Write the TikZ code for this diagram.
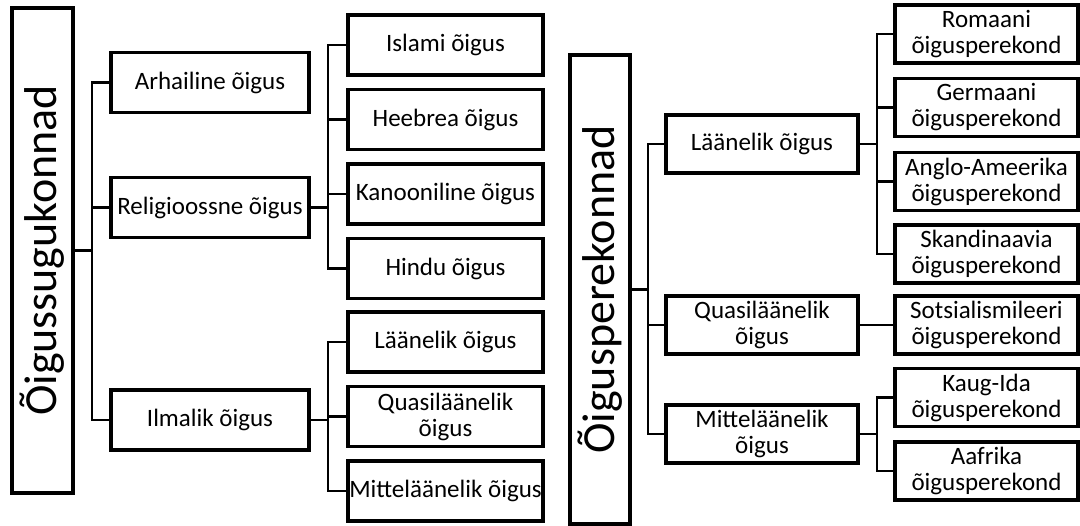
\documentclass[tikz,border=0pt]{standalone}
\usepackage{fontspec}
\setmainfont{Carlito}
\usetikzlibrary{shadows}
\begin{document}
\begin{tikzpicture}[x=1pt,y=-1pt,
  obox/.style={draw, line width=3.5pt, fill=white, inner sep=0pt, align=center,
    font=\fontsize{25}{26}\selectfont,
    drop shadow={opacity=0.25, shadow xshift=1.5pt, shadow yshift=-1.5pt}},
  lbox/.style={obox, minimum width=198pt, minimum height=60pt},
  mbox/.style={obox, minimum width=195pt, minimum height=60pt},
  rmbox/.style={obox, minimum width=192pt, minimum height=58pt},
  rrbox/.style={obox, minimum width=183pt, minimum height=58pt},
  bigtext/.style={font=\fontsize{46}{48}\selectfont, inner sep=0pt},
  conn/.style={line width=2.5pt}]
\useasboundingbox (0,0) rectangle (1080,526);

% ---------- left tree ----------
\node[obox, minimum width=61pt, minimum height=485pt] (L0) at (42.5,250.5) {};
\node[bigtext, rotate=90] (L0t) at (L0.center) {Õigussugukonnad};

\node[lbox] (A1) at (210,82.5) {Arhailine õigus};
\node[lbox] (A2) at (210,207.5) {Religioossne õigus};
\node[lbox] (A3) at (210,420) {Ilmalik õigus};

\node[mbox] (B1) at (445.5,45) {Islami õigus};
\node[mbox] (B2) at (445.5,119.5) {Heebrea õigus};
\node[mbox] (B3) at (445.5,194) {Kanooniline õigus};
\node[mbox] (B4) at (445.5,268.5) {Hindu õigus};
\node[mbox] (C1) at (445.5,342) {Läänelik õigus};
\node[mbox] (C2) at (445.5,416.5) {Quasiläänelik\\õigus};
\node[mbox] (C3) at (445.5,491) {Mitteläänelik õigus};

\coordinate (j0) at (92,250.5);
\draw[conn] (L0.east) -- (j0);
\draw[conn] (j0) |- (A1.west);
\draw[conn] (j0) |- (A2.west);
\draw[conn] (j0) |- (A3.west);

\coordinate (j1) at (328,207.5);
\draw[conn] (A2.east) -- (j1);
\foreach \n in {B1,B2,B3,B4} \draw[conn] (j1) |- (\n.west);

\coordinate (j2) at (328,420);
\draw[conn] (A3.east) -- (j2);
\foreach \n in {C1,C2,C3} \draw[conn] (j2) |- (\n.west);

% ---------- right tree ----------
\node[obox, minimum width=60pt, minimum height=469pt] (R0) at (600,289.5) {};
\node[bigtext, rotate=90] (R0t) at (R0.center) {Õigusperekonnad};

\node[rmbox] (D1) at (762,144) {Läänelik õigus};
\node[rmbox] (D2) at (762,325) {Quasiläänelik\\õigus};
\node[rmbox] (D3) at (762,434) {Mitteläänelik\\õigus};

\node[rrbox] (E1) at (986.5,34) {Romaani\\õigusperekond};
\node[rrbox] (E2) at (986.5,107.5) {Germaani\\õigusperekond};
\node[rrbox] (E3) at (986.5,181.5) {Anglo-Ameerika\\õigusperekond};
\node[rrbox] (E4) at (986.5,254) {Skandinaavia\\õigusperekond};
\node[rrbox] (E5) at (986.5,325) {Sotsialismileeri\\õigusperekond};
\node[rrbox] (E6) at (986.5,397.5) {Kaug-Ida\\õigusperekond};
\node[rrbox] (E7) at (986.5,471) {Aafrika\\õigusperekond};

\coordinate (k0) at (648,289.5);
\draw[conn] (R0.east) -- (k0);
\foreach \n in {D1,D2,D3} \draw[conn] (k0) |- (\n.west);

\coordinate (k1) at (877,144);
\draw[conn] (D1.east) -- (k1);
\foreach \n in {E1,E2,E3,E4} \draw[conn] (k1) |- (\n.west);

\draw[conn] (D2.east) -- (E5.west);

\coordinate (k2) at (877,434);
\draw[conn] (D3.east) -- (k2);
\foreach \n in {E6,E7} \draw[conn] (k2) |- (\n.west);
\end{tikzpicture}
\end{document}
